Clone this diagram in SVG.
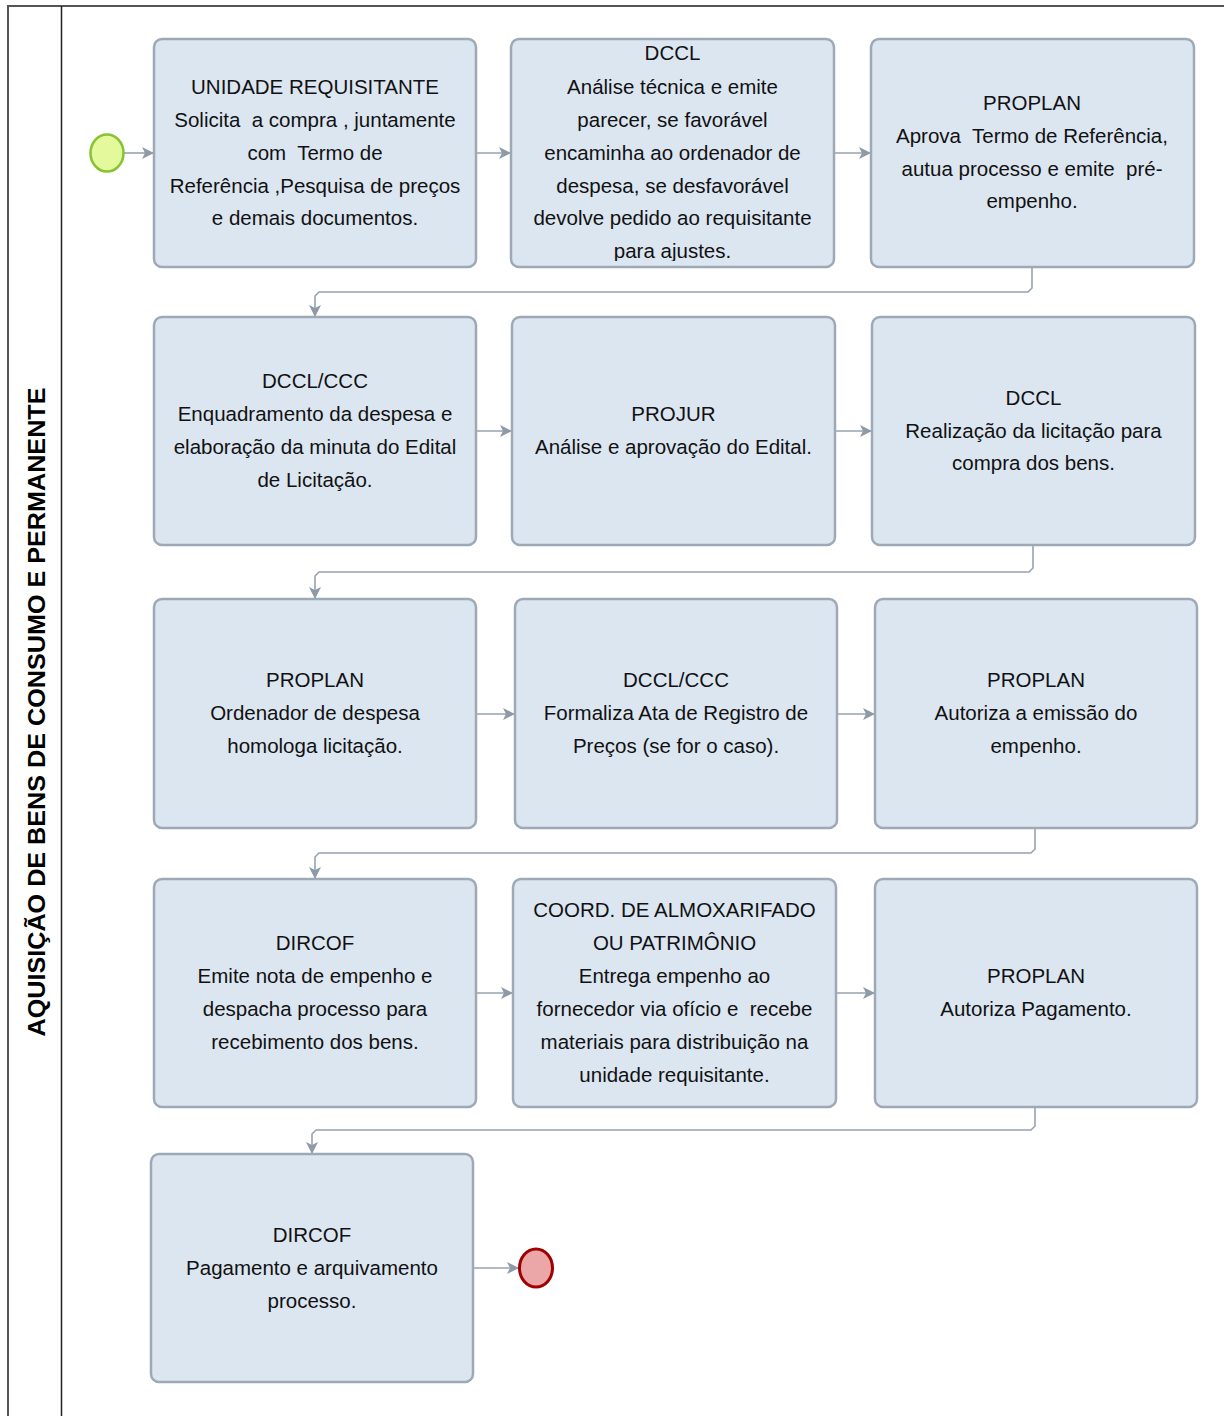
<svg xmlns="http://www.w3.org/2000/svg" width="1224" height="1416" viewBox="0 0 1224 1416">
<style>
.box{fill:#dce6f1;stroke:#9ea9b6;stroke-width:2.5}
.t{font-family:"Liberation Sans",Arial,sans-serif;font-size:20.5px;fill:#111;text-anchor:middle;white-space:pre}
.conn{fill:none;stroke:#97a3b0;stroke-width:1.6}
.lane{font-family:"Liberation Sans",Arial,sans-serif;font-size:24px;font-weight:bold;fill:#000;text-anchor:middle}
</style>
<defs>
<marker id="arr" viewBox="0 0 12 12" refX="12" refY="6" markerWidth="12" markerHeight="12" markerUnits="userSpaceOnUse" orient="auto">
<path d="M0,0 L12,6 L0,12 L3,6 Z" fill="#8e9aa7"/>
</marker>
<clipPath id="clipb2"><rect x="511" y="39" width="323" height="222"/></clipPath>
</defs>
<rect x="0" y="0" width="1224" height="1416" fill="#fff"/>
<g id="lane">
<path d="M8,1416 V6 H1224" fill="none" stroke="#555" stroke-width="2"/>
<line x1="61.5" y1="6" x2="61.5" y2="1416" stroke="#222" stroke-width="1.5"/>
<text class="lane" transform="translate(45,712) rotate(-90)" textLength="649" lengthAdjust="spacingAndGlyphs">AQUISIÇÃO DE BENS DE CONSUMO E PERMANENTE</text>
</g>
<g id="connectors">
<line class="conn" x1="124" y1="153" x2="154" y2="153" marker-end="url(#arr)"/>
<line class="conn" x1="477" y1="153" x2="511" y2="153" marker-end="url(#arr)"/>
<line class="conn" x1="835" y1="153" x2="871" y2="153" marker-end="url(#arr)"/>
<path class="conn" d="M1032,268 V288 L1028,292 H319 L315,296 V317" marker-end="url(#arr)"/>
<line class="conn" x1="477" y1="431" x2="512" y2="431" marker-end="url(#arr)"/>
<line class="conn" x1="836" y1="431" x2="872" y2="431" marker-end="url(#arr)"/>
<path class="conn" d="M1033,546 V568 L1029,572 H319 L315,576 V599" marker-end="url(#arr)"/>
<line class="conn" x1="477" y1="714" x2="515" y2="714" marker-end="url(#arr)"/>
<line class="conn" x1="838" y1="714" x2="875" y2="714" marker-end="url(#arr)"/>
<path class="conn" d="M1035,829 V849 L1031,853 H319 L315,857 V879" marker-end="url(#arr)"/>
<line class="conn" x1="477" y1="993" x2="513" y2="993" marker-end="url(#arr)"/>
<line class="conn" x1="837" y1="993" x2="875" y2="993" marker-end="url(#arr)"/>
<path class="conn" d="M1035,1108 V1126 L1031,1130 H316 L312,1134 V1154" marker-end="url(#arr)"/>
<line class="conn" x1="474" y1="1268" x2="519" y2="1268" marker-end="url(#arr)"/>
</g>
<g id="start"><ellipse cx="107" cy="153" rx="16.5" ry="18.5" fill="#e3f99b" stroke="#86c232" stroke-width="2.5"/></g>
<g id="end"><ellipse cx="536" cy="1268" rx="16.5" ry="19" fill="#eba7a7" stroke="#a00000" stroke-width="3"/></g>

<g id="n1"><rect class="box" x="154" y="39" width="322" height="228" rx="8"/>
<text class="t" x="315" y="94">UNIDADE REQUISITANTE</text>
<text class="t" x="315" y="127">Solicita  a compra , juntamente</text>
<text class="t" x="315" y="160">com  Termo de</text>
<text class="t" x="315" y="193">Referência ,Pesquisa de preços</text>
<text class="t" x="315" y="225">e demais documentos.</text></g>

<g id="n2"><rect class="box" x="511" y="39" width="323" height="228" rx="8"/>
<g clip-path="url(#clipb2)">
<text class="t" x="672.5" y="60">DCCL</text>
<text class="t" x="672.5" y="94">Análise técnica e emite</text>
<text class="t" x="672.5" y="127">parecer, se favorável</text>
<text class="t" x="672.5" y="160">encaminha ao ordenador de</text>
<text class="t" x="672.5" y="193">despesa, se desfavorável</text>
<text class="t" x="672.5" y="225">devolve pedido ao requisitante</text>
<text class="t" x="672.5" y="258">para ajustes.</text></g></g>

<g id="n3"><rect class="box" x="871" y="39" width="323" height="228" rx="8"/>
<text class="t" x="1032" y="110">PROPLAN</text>
<text class="t" x="1032" y="143">Aprova  Termo de Referência,</text>
<text class="t" x="1032" y="176">autua processo e emite  pré-</text>
<text class="t" x="1032" y="208">empenho.</text></g>

<g id="n4"><rect class="box" x="154" y="317" width="322" height="228" rx="8"/>
<text class="t" x="315" y="388">DCCL/CCC</text>
<text class="t" x="315" y="421">Enquadramento da despesa e</text>
<text class="t" x="315" y="454">elaboração da minuta do Edital</text>
<text class="t" x="315" y="487">de Licitação.</text></g>

<g id="n5"><rect class="box" x="512" y="317" width="323" height="228" rx="8"/>
<text class="t" x="673.5" y="421">PROJUR</text>
<text class="t" x="673.5" y="454">Análise e aprovação do Edital.</text></g>

<g id="n6"><rect class="box" x="872" y="317" width="323" height="228" rx="8"/>
<text class="t" x="1033.5" y="405">DCCL</text>
<text class="t" x="1033.5" y="438">Realização da licitação para</text>
<text class="t" x="1033.5" y="470">compra dos bens.</text></g>

<g id="n7"><rect class="box" x="154" y="599" width="322" height="229" rx="8"/>
<text class="t" x="315" y="687">PROPLAN</text>
<text class="t" x="315" y="720">Ordenador de despesa</text>
<text class="t" x="315" y="753">homologa licitação.</text></g>

<g id="n8"><rect class="box" x="515" y="599" width="322" height="229" rx="8"/>
<text class="t" x="676" y="687">DCCL/CCC</text>
<text class="t" x="676" y="720">Formaliza Ata de Registro de</text>
<text class="t" x="676" y="753">Preços (se for o caso).</text></g>

<g id="n9"><rect class="box" x="875" y="599" width="322" height="229" rx="8"/>
<text class="t" x="1036" y="687">PROPLAN</text>
<text class="t" x="1036" y="720">Autoriza a emissão do</text>
<text class="t" x="1036" y="753">empenho.</text></g>

<g id="n10"><rect class="box" x="154" y="879" width="322" height="228" rx="8"/>
<text class="t" x="315" y="950">DIRCOF</text>
<text class="t" x="315" y="983">Emite nota de empenho e</text>
<text class="t" x="315" y="1016">despacha processo para</text>
<text class="t" x="315" y="1049">recebimento dos bens.</text></g>

<g id="n11"><rect class="box" x="513" y="879" width="323" height="228" rx="8"/>
<text class="t" x="674.5" y="917">COORD. DE ALMOXARIFADO</text>
<text class="t" x="674.5" y="950">OU PATRIMÔNIO</text>
<text class="t" x="674.5" y="983">Entrega empenho ao</text>
<text class="t" x="674.5" y="1016">fornecedor via ofício e  recebe</text>
<text class="t" x="674.5" y="1049">materiais para distribuição na</text>
<text class="t" x="674.5" y="1082">unidade requisitante.</text></g>

<g id="n12"><rect class="box" x="875" y="879" width="322" height="228" rx="8"/>
<text class="t" x="1036" y="983">PROPLAN</text>
<text class="t" x="1036" y="1016">Autoriza Pagamento.</text></g>

<g id="n13"><rect class="box" x="151" y="1154" width="322" height="228" rx="8"/>
<text class="t" x="312" y="1242">DIRCOF</text>
<text class="t" x="312" y="1275">Pagamento e arquivamento</text>
<text class="t" x="312" y="1308">processo.</text></g>
</svg>
